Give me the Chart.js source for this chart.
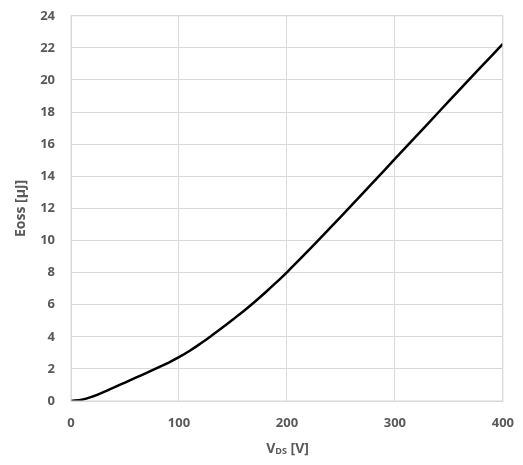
<!DOCTYPE html>
<html>
<head>
<meta charset="utf-8">
<script src="https://cdn.jsdelivr.net/npm/chart.js@4/dist/chart.umd.min.js"></script>
<style>
  html, body { margin: 0; padding: 0; background: #fff; }
  .wrap { position: relative; width: 523px; height: 465px; overflow: hidden; }
  #eossChart { position: absolute; left: 0; top: -8px; }
  #xTitle {
    position: absolute; left: 0; width: 523px; top: 438px; padding-left: 52px; box-sizing: border-box;
    text-align: center; font: bold 14px "Open Sans", sans-serif; color: #595959;
  }
  #xTitle sub { font-size: 9px; vertical-align: -1px; }
</style>
</head>
<body>
<div class="wrap">
  <canvas id="eossChart" width="528" height="473"></canvas>
  <div id="xTitle">V<sub>DS</sub> [V]</div>
</div>
<script>
// Eoss über VDS
const vds = [0, 10, 20, 30, 40, 50, 60, 70, 80, 90, 100, 110, 120, 130, 140, 150, 160, 170, 180, 190, 200,
  220, 240, 260, 280, 300, 320, 340, 360, 380, 400];
const eoss = [0, 0.08, 0.28, 0.55, 0.85, 1.15, 1.45, 1.75, 2.06, 2.38, 2.73, 3.13, 3.58, 4.06, 4.56, 5.08, 5.61, 6.17, 6.76, 7.38, 8.02,
  9.38, 10.78, 12.2, 13.64, 15.08, 16.52, 17.96, 19.4, 20.83, 22.25];

const xTicks = [0, 100, 200, 300, 400];
const yTicks = [0, 2, 4, 6, 8, 10, 12, 14, 16, 18, 20, 22, 24];

const tickFont = { family: '"Open Sans", sans-serif', size: 13, weight: 'bold' };
const gridColor = '#d9d9d9';

new Chart(document.getElementById('eossChart'), {
  type: 'line',
  data: {
    datasets: [{
      data: vds.map((v, i) => ({ x: v, y: eoss[i] })),
      borderColor: '#000',
      borderWidth: 2.5,
      pointRadius: 0,
      tension: 0.4,
      fill: false
    }]
  },
  options: {
    responsive: false,
    animation: false,
    layout: { padding: { top: 0, right: 16, left: 0, bottom: 0 } },
    plugins: { legend: { display: false }, tooltip: { enabled: false } },
    scales: {
      x: {
        type: 'linear',
        min: 0, max: 400,
        afterBuildTicks: (s) => { s.ticks = xTicks.map(v => ({ value: v })); },
        afterFit: (s) => { s.height = 64; },
        ticks: { color: '#595959', font: tickFont, padding: 14, maxRotation: 0 },
        grid: { color: gridColor, lineWidth: 1, drawTicks: false },
        border: { color: gridColor }
      },
      y: {
        min: 0, max: 24,
        afterBuildTicks: (s) => { s.ticks = yTicks.map(v => ({ value: v })); },
        afterFit: (s) => { s.width = 71; },
        ticks: { color: '#595959', font: tickFont, padding: 16 },
        grid: { color: gridColor, lineWidth: 1, drawTicks: false },
        border: { color: gridColor },
        title: {
          display: true,
          text: 'Eoss [µJ]',
          color: '#595959',
          font: { family: '"Open Sans", sans-serif', size: 14, weight: 'bold' },
          padding: { top: 13, bottom: 0 }
        }
      }
    }
  },
  plugins: [{
    // rechter und oberer Rahmen wie im Original
    id: 'frame',
    afterDraw(chart) {
      const { ctx, chartArea: a } = chart;
      ctx.save();
      ctx.strokeStyle = gridColor;
      ctx.lineWidth = 1;
      ctx.strokeRect(a.left, a.top, a.right - a.left, a.bottom - a.top);
      ctx.restore();
    }
  }]
});
</script>
</body>
</html>
